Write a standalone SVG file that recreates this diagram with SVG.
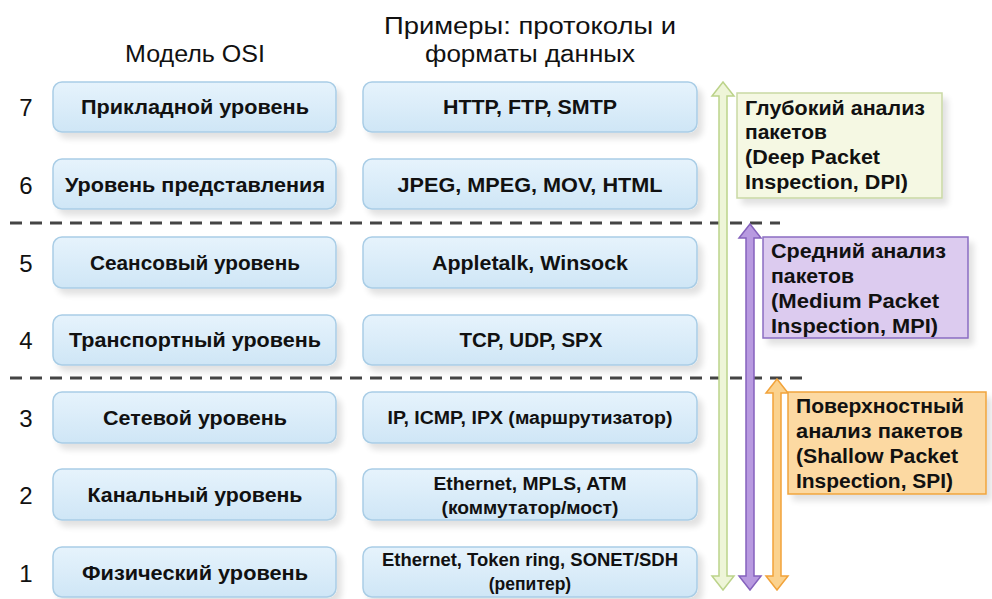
<svg xmlns="http://www.w3.org/2000/svg" width="992" height="599" viewBox="0 0 992 599">
<defs>
<linearGradient id="bg" x1="0" y1="0" x2="0" y2="1">
<stop offset="0" stop-color="#e6f3fc"/>
<stop offset="1" stop-color="#cfe6f6"/>
</linearGradient>
<filter id="sh" x="-10%" y="-20%" width="130%" height="160%">
<feGaussianBlur in="SourceAlpha" stdDeviation="3"/>
<feOffset dx="5" dy="6" result="o"/>
<feComponentTransfer><feFuncA type="linear" slope="0.12"/></feComponentTransfer>
<feMerge><feMergeNode/><feMergeNode in="SourceGraphic"/></feMerge>
</filter>
</defs>
<style>
text{font-family:"Liberation Sans","Noto Sans",sans-serif;fill:#111}
.hd{font-size:23px;text-anchor:middle}
.num{font-size:24px;text-anchor:middle}
.bx{fill:url(#bg);stroke:#a9cde6;stroke-width:1.5}
.t{font-size:20px;font-weight:bold;text-anchor:middle}
.ts{font-size:17.5px;font-weight:bold;text-anchor:middle}
.lb{font-size:20px;font-weight:bold}
.dash{stroke:#444;stroke-width:3;stroke-dasharray:12,8;fill:none}
</style>
<g id="headers">
<text class="hd" x="195" y="62" textLength="140" lengthAdjust="spacingAndGlyphs">Модель OSI</text>
<text class="hd" x="530" y="34" textLength="292" lengthAdjust="spacingAndGlyphs">Примеры: протоколы и</text>
<text class="hd" x="530" y="62" textLength="210" lengthAdjust="spacingAndGlyphs">форматы данных</text>
</g>
<g id="layer7">
<text class="num" x="26" y="116">7</text>
<rect class="bx" filter="url(#sh)" x="53" y="82" width="283" height="50" rx="9"/>
<text class="t" x="195" y="114" textLength="228" lengthAdjust="spacingAndGlyphs">Прикладной уровень</text>
<rect class="bx" filter="url(#sh)" x="363" y="82" width="334" height="50" rx="9"/>
<text class="t" x="530" y="114" textLength="174" lengthAdjust="spacingAndGlyphs">HTTP, FTP, SMTP</text>
</g>
<g id="layer6">
<text class="num" x="26" y="194">6</text>
<rect class="bx" filter="url(#sh)" x="53" y="159" width="283" height="50" rx="9"/>
<text class="t" x="195" y="192" textLength="260" lengthAdjust="spacingAndGlyphs">Уровень представления</text>
<rect class="bx" filter="url(#sh)" x="363" y="159" width="334" height="50" rx="9"/>
<text class="t" x="530" y="192" textLength="265" lengthAdjust="spacingAndGlyphs">JPEG, MPEG, MOV, HTML</text>
</g>
<g id="layer5">
<text class="num" x="26" y="272">5</text>
<rect class="bx" filter="url(#sh)" x="53" y="237" width="283" height="51" rx="9"/>
<text class="t" x="195" y="270" textLength="210" lengthAdjust="spacingAndGlyphs">Сеансовый уровень</text>
<rect class="bx" filter="url(#sh)" x="363" y="237" width="334" height="51" rx="9"/>
<text class="t" x="530" y="270" textLength="196" lengthAdjust="spacingAndGlyphs">Appletalk, Winsock</text>
</g>
<g id="layer4">
<text class="num" x="26" y="349">4</text>
<rect class="bx" filter="url(#sh)" x="53" y="315" width="283" height="50" rx="9"/>
<text class="t" x="195" y="347" textLength="252" lengthAdjust="spacingAndGlyphs">Транспортный уровень</text>
<rect class="bx" filter="url(#sh)" x="363" y="315" width="334" height="50" rx="9"/>
<text class="t" x="531" y="347" textLength="143" lengthAdjust="spacingAndGlyphs">TCP, UDP, SPX</text>
</g>
<g id="layer3">
<text class="num" x="26" y="427">3</text>
<rect class="bx" filter="url(#sh)" x="53" y="392" width="283" height="51" rx="9"/>
<text class="t" x="195" y="425" textLength="184" lengthAdjust="spacingAndGlyphs">Сетевой уровень</text>
<rect class="bx" filter="url(#sh)" x="363" y="392" width="334" height="51" rx="9"/>
<text class="ts" x="530" y="424" textLength="285" lengthAdjust="spacingAndGlyphs">IP, ICMP, IPX (маршрутизатор)</text>
</g>
<g id="layer2">
<text class="num" x="26" y="504">2</text>
<rect class="bx" filter="url(#sh)" x="53" y="469" width="283" height="51" rx="9"/>
<text class="t" x="195" y="502" textLength="215" lengthAdjust="spacingAndGlyphs">Канальный уровень</text>
<rect class="bx" filter="url(#sh)" x="363" y="469" width="334" height="51" rx="9"/>
<text class="ts" x="530" y="490" textLength="193" lengthAdjust="spacingAndGlyphs">Ethernet, MPLS, ATM</text>
<text class="ts" x="530" y="514" textLength="177" lengthAdjust="spacingAndGlyphs">(коммутатор/мост)</text>
</g>
<g id="layer1">
<text class="num" x="26" y="582">1</text>
<rect class="bx" filter="url(#sh)" x="53" y="547" width="283" height="50" rx="9"/>
<text class="t" x="195" y="580" textLength="226" lengthAdjust="spacingAndGlyphs">Физический уровень</text>
<rect class="bx" filter="url(#sh)" x="363" y="547" width="334" height="50" rx="9"/>
<text class="ts" x="530" y="566" textLength="296" lengthAdjust="spacingAndGlyphs">Ethernet, Token ring, SONET/SDH</text>
<text class="ts" x="530" y="590">(репитер)</text>
</g>
<g id="connectors">
<line class="dash" x1="10" y1="223" x2="780" y2="223"/>
<line class="dash" x1="10" y1="378" x2="802" y2="378"/>
<path d="M723,82 L734,96 L727,96 L727,576 L734,576 L723,590 L712,576 L719,576 L719,96 L712,96 Z" fill="#eef5d8" stroke="#bcd38a" stroke-width="1.5"/>
<path d="M750,224 L761,238 L754,238 L754,576 L761,576 L750,590 L739,576 L746,576 L746,238 L739,238 Z" fill="#b89ae0" stroke="#8562bd" stroke-width="1.5"/>
<path d="M777,379 L788,393 L781,393 L781,576 L788,576 L777,590 L766,576 L773,576 L773,393 L766,393 Z" fill="#fbd28e" stroke="#f2a33a" stroke-width="1.5"/>
</g>
<g id="dpi">
<rect x="737" y="93" width="205" height="105" fill="#f5f8e3" stroke="#c9d9a4" stroke-width="1.5" filter="url(#sh)"/>
<text class="lb" x="745" y="115" textLength="180" lengthAdjust="spacingAndGlyphs">Глубокий анализ</text>
<text class="lb" x="745" y="139" textLength="82" lengthAdjust="spacingAndGlyphs">пакетов</text>
<text class="lb" x="745" y="164" textLength="135" lengthAdjust="spacingAndGlyphs">(Deep Packet</text>
<text class="lb" x="745" y="189" textLength="163" lengthAdjust="spacingAndGlyphs">Inspection, DPI)</text>
</g>
<g id="mpi">
<rect x="763" y="237" width="205" height="101" fill="#dccbef" stroke="#8a6cc2" stroke-width="1.5" filter="url(#sh)"/>
<text class="lb" x="771" y="258" textLength="175" lengthAdjust="spacingAndGlyphs">Средний анализ</text>
<text class="lb" x="771" y="283" textLength="83" lengthAdjust="spacingAndGlyphs">пакетов</text>
<text class="lb" x="771" y="308" textLength="168" lengthAdjust="spacingAndGlyphs">(Medium Packet</text>
<text class="lb" x="771" y="333" textLength="167" lengthAdjust="spacingAndGlyphs">Inspection, MPI)</text>
</g>
<g id="spi">
<rect x="788" y="392" width="198" height="102" fill="#fcd9a2" stroke="#f0a43c" stroke-width="1.5" filter="url(#sh)"/>
<text class="lb" x="796" y="413" textLength="168" lengthAdjust="spacingAndGlyphs">Поверхностный</text>
<text class="lb" x="796" y="438" textLength="167" lengthAdjust="spacingAndGlyphs">анализ пакетов</text>
<text class="lb" x="796" y="463" textLength="162" lengthAdjust="spacingAndGlyphs">(Shallow Packet</text>
<text class="lb" x="796" y="488" textLength="157" lengthAdjust="spacingAndGlyphs">Inspection, SPI)</text>
</g>
</svg>
